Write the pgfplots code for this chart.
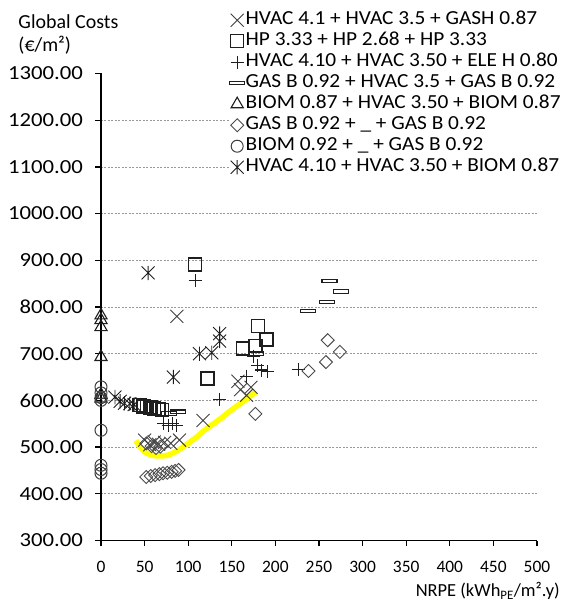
\documentclass[border=0pt]{standalone}
\usepackage{pgfplots}
\pgfplotsset{compat=1.18}
\usepackage{fontspec}
\setmainfont{Carlito}
\newfontfamily\widefont{Carlito}[FakeStretch=1.07]
\newfontfamily\ywidefont{Carlito}[FakeStretch=1.14]
\definecolor{mk}{HTML}{1E1E1E}
\definecolor{yl}{HTML}{FFFF00}

\pgfdeclareplotmark{xmk}{%
  \pgfpathmoveto{\pgfqpoint{-\pgfplotmarksize}{-\pgfplotmarksize}}%
  \pgfpathlineto{\pgfqpoint{\pgfplotmarksize}{\pgfplotmarksize}}%
  \pgfpathmoveto{\pgfqpoint{-\pgfplotmarksize}{\pgfplotmarksize}}%
  \pgfpathlineto{\pgfqpoint{\pgfplotmarksize}{-\pgfplotmarksize}}%
  \pgfusepathqstroke}
\pgfdeclareplotmark{xstar}{%
  \pgfpathmoveto{\pgfqpoint{-\pgfplotmarksize}{-\pgfplotmarksize}}%
  \pgfpathlineto{\pgfqpoint{\pgfplotmarksize}{\pgfplotmarksize}}%
  \pgfpathmoveto{\pgfqpoint{-\pgfplotmarksize}{\pgfplotmarksize}}%
  \pgfpathlineto{\pgfqpoint{\pgfplotmarksize}{-\pgfplotmarksize}}%
  \pgfpathmoveto{\pgfqpoint{0pt}{-1.1\pgfplotmarksize}}%
  \pgfpathlineto{\pgfqpoint{0pt}{1.1\pgfplotmarksize}}%
  \pgfusepathqstroke}
\pgfdeclareplotmark{dash}{%
  \pgfpathrectangle{\pgfqpoint{-\pgfplotmarksize}{-0.22\pgfplotmarksize}}{\pgfqpoint{2\pgfplotmarksize}{0.44\pgfplotmarksize}}%
  \pgfusepathqstroke}
\pgfdeclareplotmark{dmd}{%
  \pgfpathmoveto{\pgfqpoint{0pt}{\pgfplotmarksize}}%
  \pgfpathlineto{\pgfqpoint{\pgfplotmarksize}{0pt}}%
  \pgfpathlineto{\pgfqpoint{0pt}{-\pgfplotmarksize}}%
  \pgfpathlineto{\pgfqpoint{-\pgfplotmarksize}{0pt}}%
  \pgfpathclose
  \pgfusepathqstroke}

\begin{document}
\begin{tikzpicture}
\path[use as bounding box] (-101bp,-66.5bp) rectangle (464bp,540.5bp);
\begin{axis}[
  at={(0,0)}, anchor=south west,
  scale only axis, width=436bp, height=467bp,
  xmin=0, xmax=500, ymin=300, ymax=1300,
  axis x line*=bottom, axis y line*=left,
  axis line style={line width=1.5bp, black, -},
  xtick={0,50,...,500}, ytick={300,400,...,1200},
  extra y ticks={1300}, extra y tick style={grid=none},
  ymajorgrids,
  grid style={black!40, line width=0.6bp, dash pattern=on 2bp off 1.5bp},
  tick align=outside, major tick length=5.5bp,
  tick style={line width=1.3bp, black},
  /pgf/number format/assume math mode=true,
  y tick label style={font=\ywidefont\fontsize{20}{20}\selectfont, xshift=-9bp,
     /pgf/number format/fixed, /pgf/number format/fixed zerofill,
     /pgf/number format/precision=2, /pgf/number format/1000 sep={}},
  x tick label style={font=\fontsize{17.5}{17.5}\selectfont, yshift=-12bp},
  clip=false,
  legend cell align=left,
  legend image code/.code={\draw[#1] plot coordinates {(0bp,0bp)};},
  legend style={at={(0.2947,1.1370)}, anchor=north west, draw=none, fill=white,
     font=\widefont\fontsize{20}{21}\selectfont, inner sep=0pt, row sep=0pt,
     nodes={inner sep=1bp, text height=14bp, text depth=5bp},
     /tikz/every even column/.append style={column sep=3bp}},
]
\addplot[only marks, mark=xmk, mark size=6.5bp, mark options={draw=mk!85, line width=0.9bp}]
 coordinates {(87,780)(117,557)(157,641)(160,623)(167,611)(172,628)
 (50,515)(56,505)(61,511)(66,506)(73,510)(80,508)(90,515)};
\addlegendentry{HVAC 4.1 + HVAC 3.5 + GASH 0.87}
\addplot[only marks, mark=square, mark size=6.5bp, mark options={draw=mk, line width=1.5bp}]
 coordinates {(108,891)(122,647)(163,711)(177,716)(180,759)(190,730)
 (44,590)(49,587)(53,586)(57,585)(61,583)(66,582)(70,579)};
\addlegendentry{HP 3.33 + HP 2.68 + HP 3.33}
\addplot[only marks, mark=+, mark size=6.5bp, mark options={draw=mk, line width=1.1bp}]
 coordinates {(108,857)(136,602)(167,652)(175,695)(179,675)(184,665)(191,662)(226,667)
 (72,551)(77,547)(82,551)(87,547)};
\addlegendentry{HVAC 4.10 + HVAC 3.50 + ELE H 0.80}
\addplot[only marks, mark=dash, mark size=7.5bp, mark options={draw=mk, line width=1.1bp}]
 coordinates {(237,792)(259,811)(262,856)(275,833)(78,572)(88,576)(178,700)};
\addlegendentry{GAS B 0.92 + HVAC 3.5 + GAS B 0.92}
\addplot[only marks, mark=triangle, mark size=7bp, mark options={draw=mk, line width=1.1bp}]
 coordinates {(0,782)(0,772)(0,757)(0,693)(0,612)(0,604)};
\addlegendentry{BIOM 0.87 + HVAC 3.50 + BIOM 0.87}
\addplot[only marks, mark=dmd, mark size=6.5bp, mark options={draw=mk!80, line width=0.9bp}]
 coordinates {(177,571)(238,663)(258,682)(260,729)(274,704)
 (52,436)(57,438)(62,440)(67,442)(71,444)(76,445)(81,447)(85,449)(89,451)
 (52,508)(58,502)(63,498)(68,501)};
\addlegendentry{GAS B 0.92 + \_{} + GAS B 0.92}
\addplot[only marks, mark=o, mark size=6bp, mark options={draw=mk!85, line width=1bp}]
 coordinates {(0,629)(0,616)(0,606)(0,600)(0,536)(0,461)(0,452)(0,444)};
\addlegendentry{BIOM 0.92 + \_{} + GAS B 0.92}
\addplot[only marks, mark=xstar, mark size=6.5bp, mark options={draw=mk, line width=0.9bp}]
 coordinates {(54,873)(83,650)(113,700)(127,702)(136,743)(136,727)
 (16,607)(22,598)(27,594)(33,593)(38,591)};
\addlegendentry{HVAC 4.10 + HVAC 3.50 + BIOM 0.87}
\addplot[yl, line width=5.5bp, smooth, forget plot]
 coordinates {(40,514)(45,500)(50,490)(55,485)(60,482)(65,481)(70,481)(75,482)(80,485)
 (90,495)(100,508)(110,522)(120,538)(135,558)(150,580)(165,600)(178,619)};
\end{axis}
\node[anchor=base west, inner sep=0pt, font=\fontsize{20}{20}\selectfont] at (-82.7bp,512.2bp) {Global Costs};
\node[anchor=base west, inner sep=0pt, font=\fontsize{20}{20}\selectfont] at (-82.7bp,489bp) {(€/m²)};
\node[anchor=base east, inner sep=0pt, font=\fontsize{18.5}{18.5}\selectfont] at (459bp,-56bp) {NRPE (kWh\textsubscript{PE}/m².y)};
\end{tikzpicture}
\end{document}
